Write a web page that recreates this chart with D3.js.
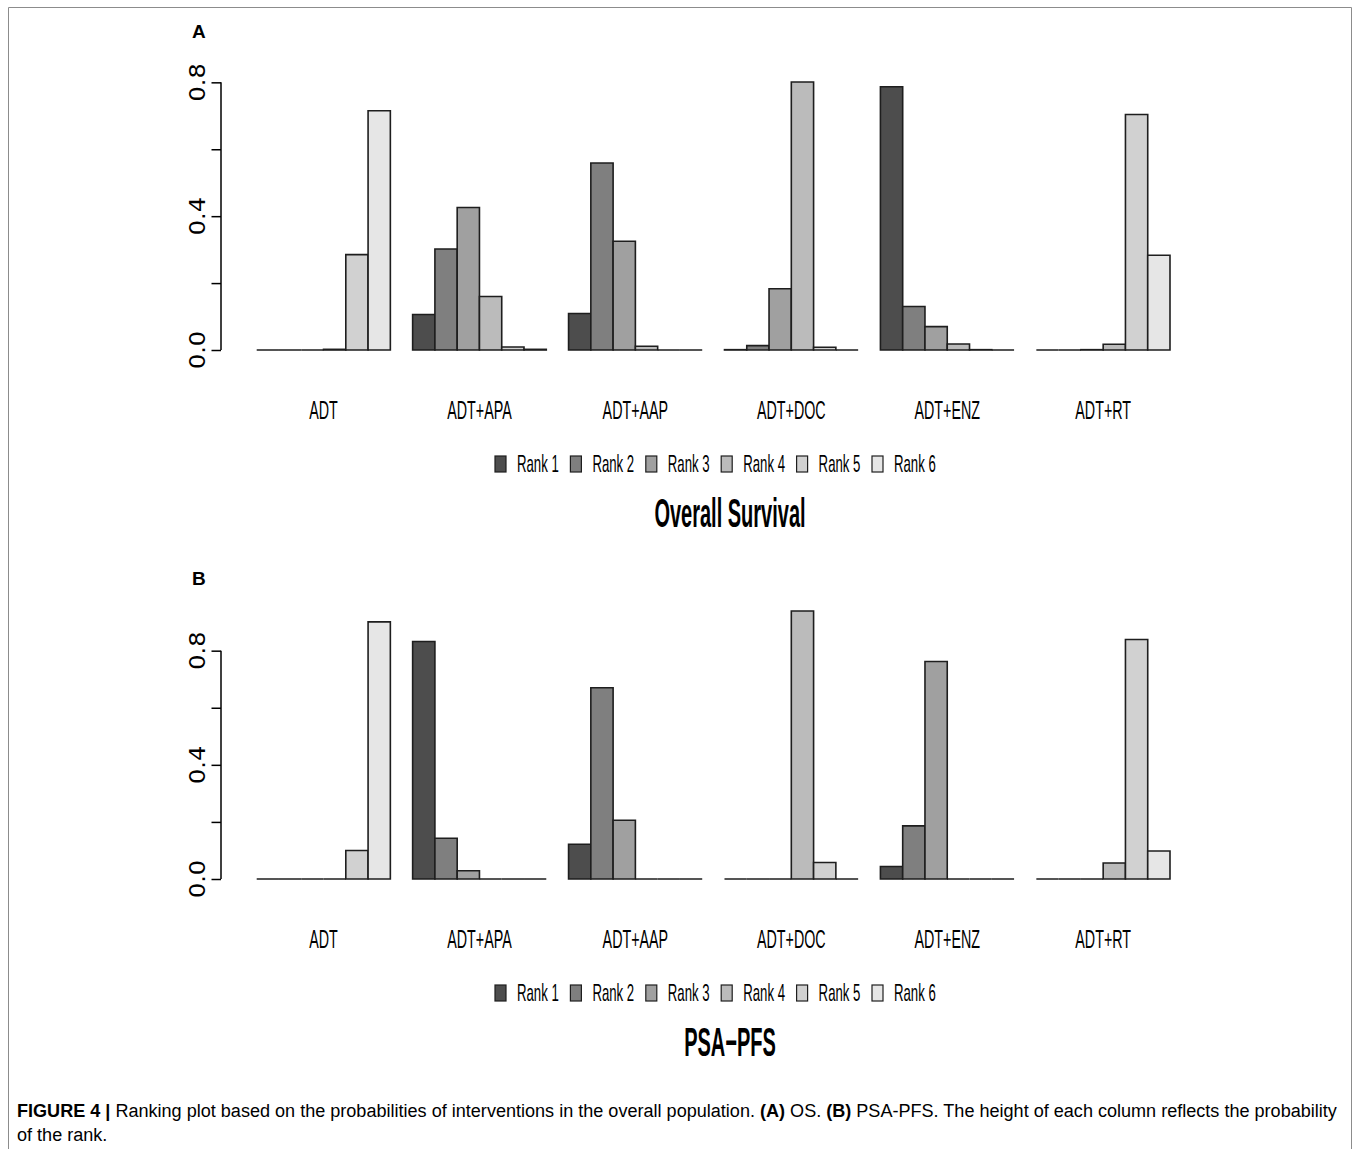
<!DOCTYPE html>
<html>
<head>
<meta charset="utf-8">
<script src="https://cdn.jsdelivr.net/npm/d3@7"></script>
<style>
  html, body { margin: 0; padding: 0; background: #fff; }
  svg { display: block; }
</style>
</head>
<body>
<svg id="chart" width="1360" height="1149"></svg>
<script>
// ---------- data ----------
const categories = ["ADT", "ADT+APA", "ADT+AAP", "ADT+DOC", "ADT+ENZ", "ADT+RT"];
const rankLabels = ["Rank 1", "Rank 2", "Rank 3", "Rank 4", "Rank 5", "Rank 6"];
// probability of each rank (Rank 1..6) per intervention — Overall Survival
const osProb = [
  [0.000, 0.000, 0.000, 0.002, 0.285, 0.715],
  [0.106, 0.302, 0.426, 0.160, 0.009, 0.002],
  [0.109, 0.559, 0.325, 0.011, 0.000, 0.000],
  [0.001, 0.013, 0.183, 0.801, 0.008, 0.000],
  [0.787, 0.130, 0.070, 0.018, 0.001, 0.000],
  [0.000, 0.000, 0.001, 0.017, 0.704, 0.283]
];
// PSA-PFS
const pfsProb = [
  [0.000, 0.000, 0.000, 0.000, 0.100, 0.901],
  [0.832, 0.143, 0.029, 0.000, 0.000, 0.000],
  [0.122, 0.670, 0.206, 0.000, 0.000, 0.000],
  [0.000, 0.000, 0.000, 0.939, 0.058, 0.000],
  [0.044, 0.186, 0.762, 0.000, 0.000, 0.000],
  [0.000, 0.000, 0.000, 0.056, 0.839, 0.098]
];
const yTicks = [0, 0.2, 0.4, 0.6, 0.8];
const yTickLabels = ["0.0", "", "0.4", "", "0.8"];
const panelTitles = ["Overall Survival", "PSA\u2212PFS"];
const panelLetters = ["A", "B"];

// ---------- styles ----------
const rankColors = ["#4D4D4D", "#7F7F7F", "#A0A0A0", "#BBBBBB", "#D1D1D1", "#E6E6E6"];
const SANS = "'Liberation Sans', Arial, Helvetica, sans-serif";

const svg = d3.select("#chart");

// outer frame (top, left, right)
svg.append("path")
  .attr("d", "M8.5,1149 V7.5 H1351.5 V1149")
  .attr("fill", "none").attr("stroke", "#8c8c8c").attr("stroke-width", 1);

function condText(g, str, x, y, opts) {
  const sx = opts.sx || 1;
  return g.append("text")
    .attr("x", x / sx).attr("y", y)
    .attr("transform", `scale(${sx},1)`)
    .attr("text-anchor", opts.anchor || "start")
    .attr("font-family", opts.family || SANS)
    .attr("font-size", opts.size)
    .attr("font-weight", opts.weight || "normal")
    .attr("fill", "#000")
    .text(str);
}

function drawPanel(data, baseY, letterY, letter, title) {
  const g = svg.append("g");

  const x0 = d3.scaleBand().domain(categories)
    .range([256.7, 1170]).paddingInner(1 / 7).paddingOuter(0);
  const x1 = d3.scaleBand().domain(d3.range(rankLabels.length))
    .range([0, x0.bandwidth()]).padding(0);
  const maxV = d3.max(data, row => d3.max(row));
  const y = d3.scaleLinear().domain([0, maxV]).range([baseY, baseY - 268]);

  // bars (paths so zero-height bars still show their outline)
  categories.forEach((cat, ci) => {
    const gg = g.append("g").attr("transform", `translate(${x0(cat)},0)`);
    gg.selectAll("path").data(data[ci]).join("path")
      .attr("d", (v, i) => {
        const xa = x1(i), xb = x1(i) + x1.bandwidth();
        return `M${xa},${y(0)} V${y(v)} H${xb} V${y(0)} Z`;
      })
      .attr("fill", (v, i) => rankColors[i])
      .attr("stroke", "#1e1e1e")
      .attr("stroke-width", 1.6)
      .attr("stroke-linejoin", "miter");
  });

  // y axis
  const axisX = 221;
  const axis = d3.axisLeft(y).tickValues(yTicks).tickSize(9.5).tickSizeOuter(0).tickFormat("");
  const ag = g.append("g").attr("transform", `translate(${axisX},0)`).call(axis);
  ag.select(".domain").remove();
  ag.selectAll(".tick line").attr("stroke", "#000").attr("stroke-width", 1.5);
  ag.append("line")
    .attr("x1", 0).attr("x2", 0)
    .attr("y1", y(yTicks[0])).attr("y2", y(yTicks[yTicks.length - 1]))
    .attr("stroke", "#000").attr("stroke-width", 1.5);
  yTicks.forEach((t, i) => {
    if (!yTickLabels[i]) return;
    g.append("text")
      .attr("transform", `translate(205,${y(t)}) scale(0.85,1) rotate(-90)`)
      .attr("text-anchor", "middle")
      .attr("font-family", "'DejaVu Sans', Verdana, sans-serif")
      .attr("font-size", 24)
      .attr("fill", "#000")
      .text(yTickLabels[i]);
  });

  // category labels
  categories.forEach(cat => {
    condText(g, cat, x0(cat) + x0.bandwidth() / 2, baseY + 69, { size: 26, sx: 0.55, anchor: "middle" });
  });

  // legend
  const legY = baseY + 106;
  const legX = d3.scaleLinear().domain([0, 1]).range([495, 570.4]);
  rankLabels.forEach((lab, i) => {
    const lx = legX(i);
    g.append("rect")
      .attr("x", lx).attr("y", legY).attr("width", 11).attr("height", 16)
      .attr("fill", rankColors[i]).attr("stroke", "#1e1e1e").attr("stroke-width", 1.2);
    condText(g, lab, lx + 22, legY + 16, { size: 24, sx: 0.55 });
  });

  // title
  condText(g, title, 730, baseY + 177, { size: 40, sx: 0.5, weight: "bold", anchor: "middle" });

  // panel letter
  g.append("text")
    .attr("x", 192).attr("y", letterY)
    .attr("font-family", SANS).attr("font-size", 19).attr("font-weight", "bold")
    .attr("fill", "#000").text(letter);
}

drawPanel(osProb, 350, 38, panelLetters[0], panelTitles[0]);
drawPanel(pfsProb, 879, 585, panelLetters[1], panelTitles[1]);

// caption
const cap = svg.append("text")
  .attr("font-family", SANS).attr("font-size", 19).attr("fill", "#000");
const line1 = cap.append("tspan").attr("x", 0).attr("y", 1117);
line1.append("tspan").attr("font-weight", "bold").text("FIGURE 4 | ");
line1.append("tspan").text("Ranking plot based on the probabilities of interventions in the overall population. ");
line1.append("tspan").attr("font-weight", "bold").text("(A)");
line1.append("tspan").text(" OS. ");
line1.append("tspan").attr("font-weight", "bold").text("(B)");
line1.append("tspan").text(" PSA-PFS. The height of each column reflects the probability");
cap.append("tspan").attr("x", 0).attr("y", 1141).text("of the rank.");
const w = cap.node().getBBox().width;
const capSx = (1338 - 17) / w;
cap.attr("transform", `translate(17,0) scale(${capSx},1)`);
</script>
</body>
</html>
